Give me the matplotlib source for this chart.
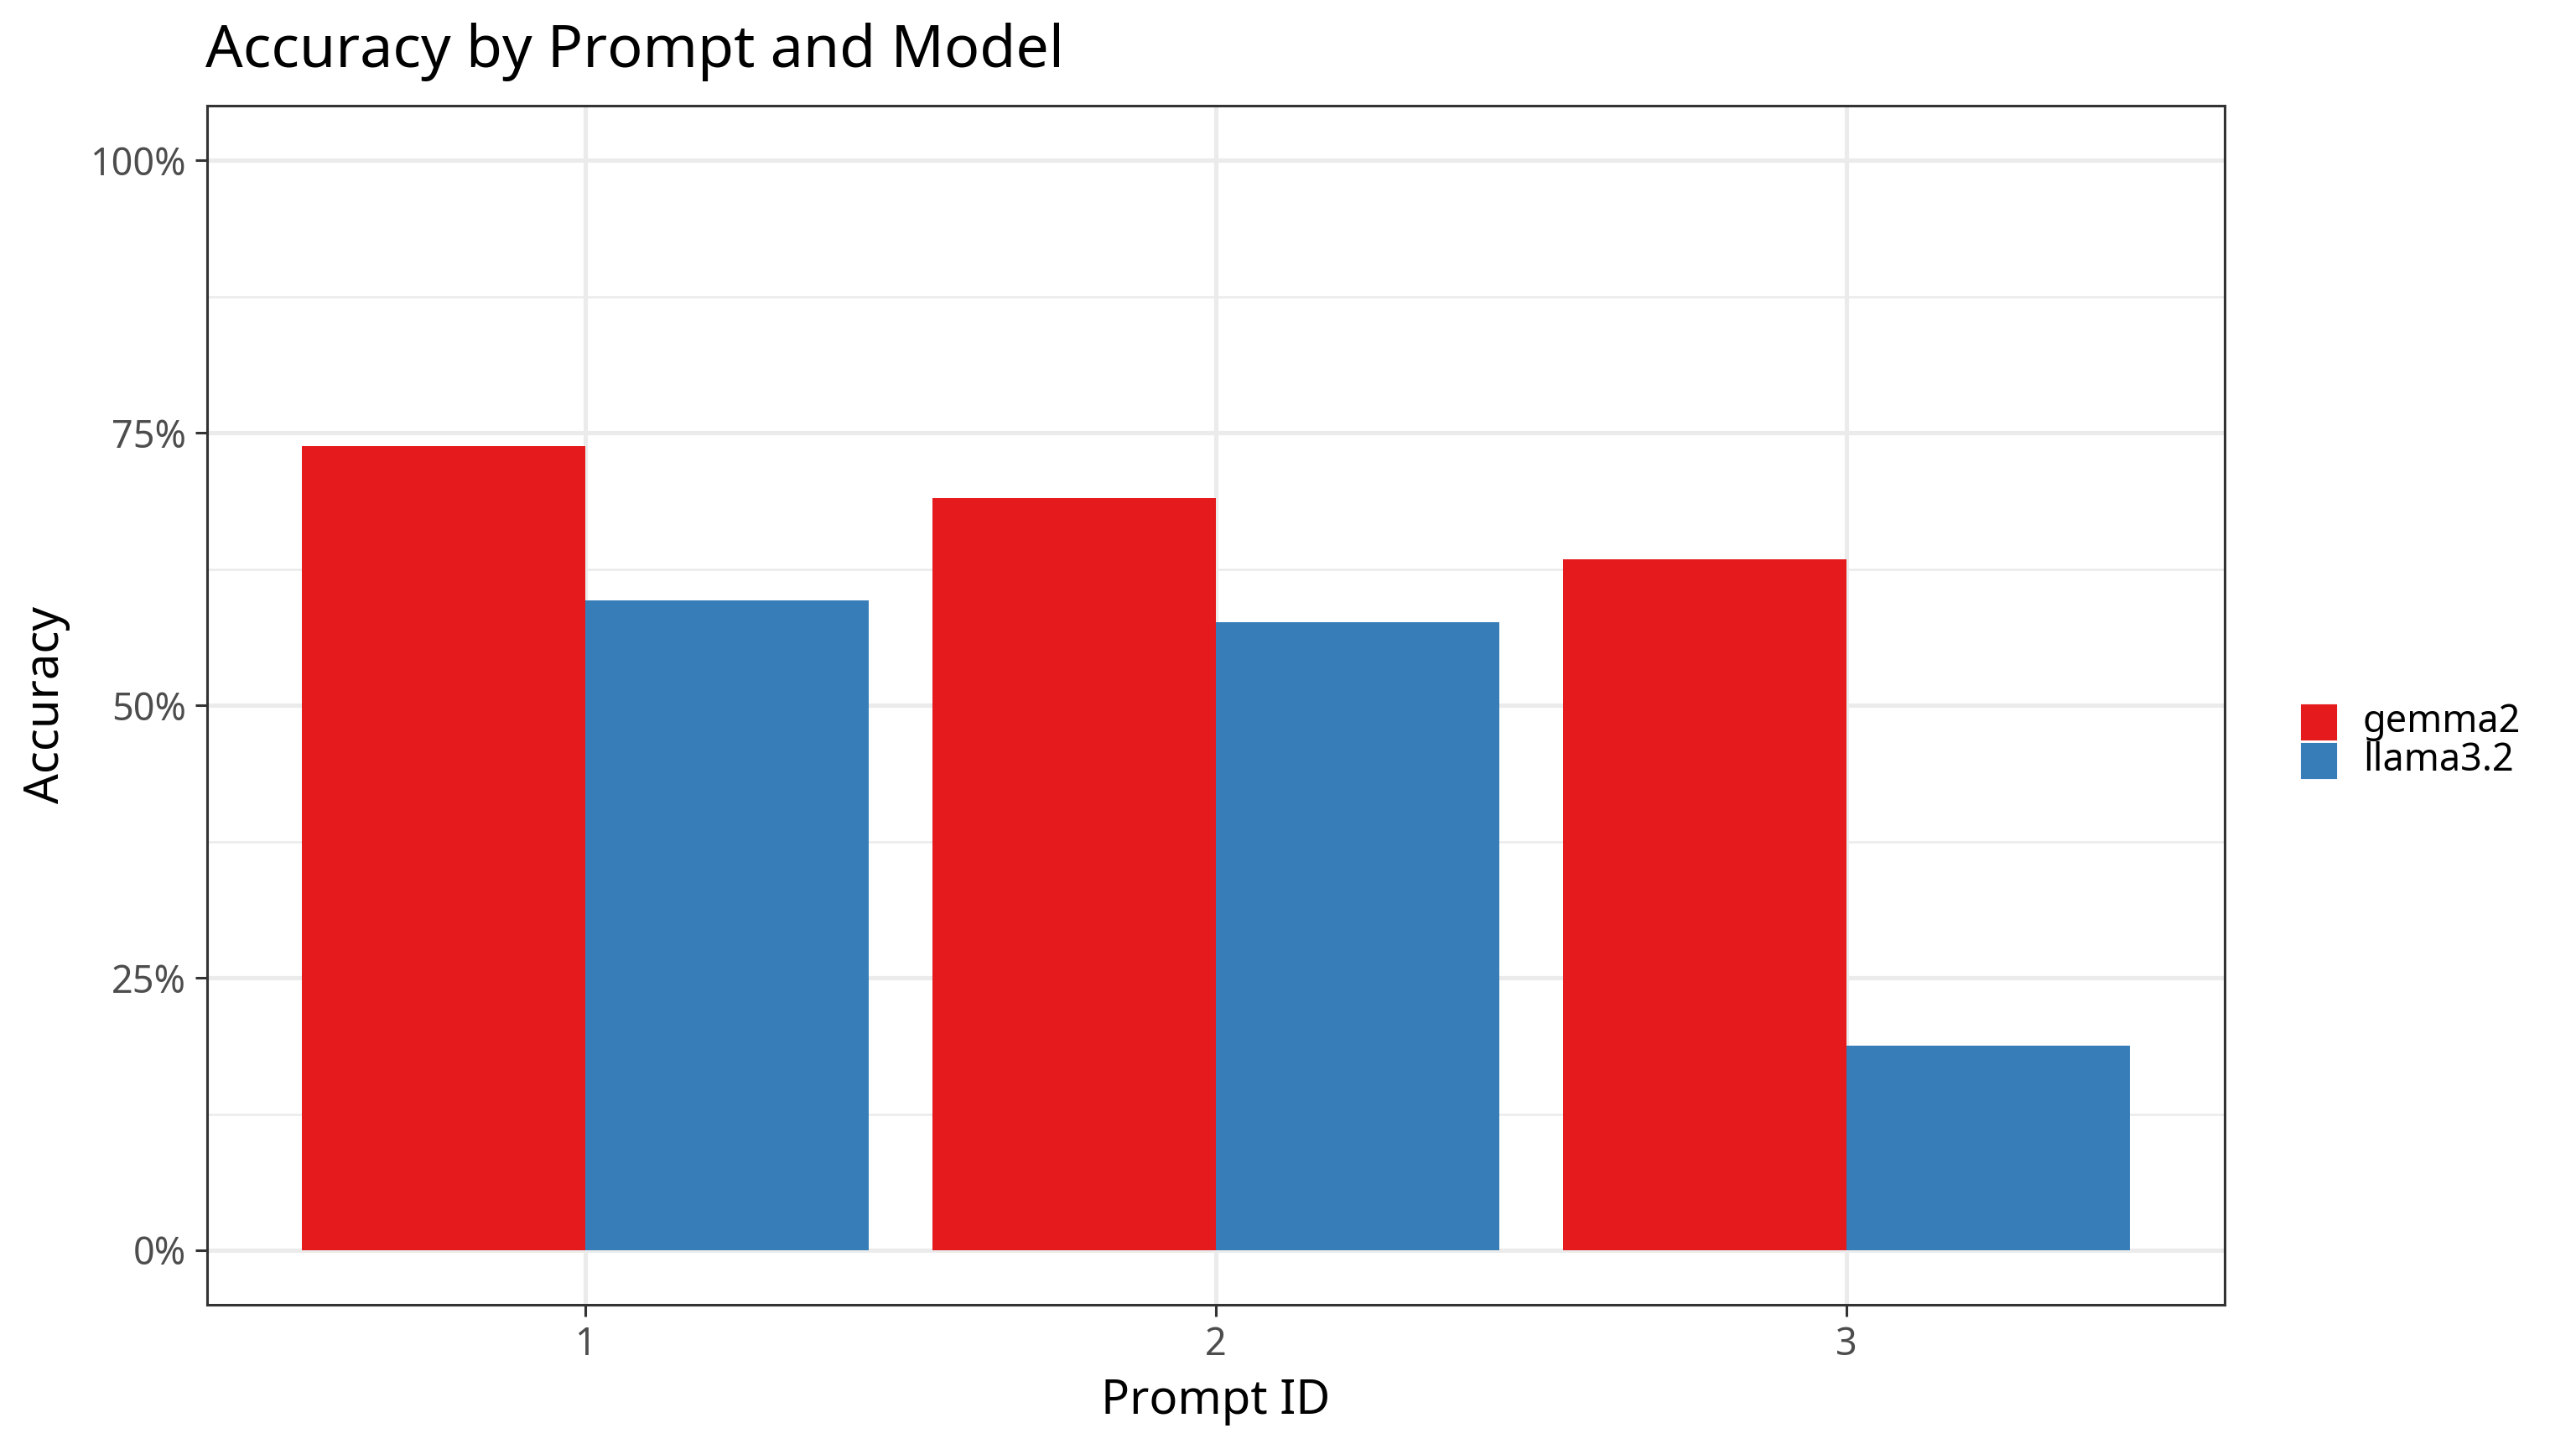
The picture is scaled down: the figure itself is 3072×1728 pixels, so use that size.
import numpy as np
import matplotlib
matplotlib.use('Agg')
import matplotlib.pyplot as plt
from matplotlib.patches import Rectangle
from matplotlib.ticker import PercentFormatter, MultipleLocator

# data
prompt_ids = ['1', '2', '3']
models = ['gemma2', 'llama3.2']
gemma2_acc = [0.738, 0.690, 0.634]
llama_acc = [0.596, 0.576, 0.188]
colors = ['#E41A1C', '#377EB8']

plt.rcParams['font.family'] = ['Noto Sans', 'DejaVu Sans']

W, H = 3072, 1728
DPI = 368
fig = plt.figure(figsize=(W / DPI, H / DPI), dpi=DPI)
ax = fig.add_axes([247 / W, 1 - 1556 / H, (2653 - 247) / W, (1556 - 126) / H])

x = np.arange(1, len(prompt_ids) + 1)
width = 0.45
ax.bar(x - width / 2, gemma2_acc, width, color=colors[0], zorder=3, label=models[0])
ax.bar(x + width / 2, llama_acc, width, color=colors[1], zorder=3, label=models[1])

ax.set_xlim(0.4, 3.6)
ax.set_ylim(-0.05, 1.05)
ax.set_xticks(x)
ax.set_xticklabels(prompt_ids)
ax.yaxis.set_major_locator(MultipleLocator(0.25))
ax.yaxis.set_minor_locator(MultipleLocator(0.125))
ax.yaxis.set_major_formatter(PercentFormatter(1.0, decimals=0))

ax.grid(which='major', color='#EBEBEB', linewidth=1.0, zorder=0)
ax.grid(which='minor', axis='y', color='#EBEBEB', linewidth=0.5, zorder=0)
ax.set_axisbelow(True)
for s in ax.spines.values():
    s.set_color('#333333')
    s.set_linewidth(0.6)
ax.tick_params(which='major', length=2.75, width=0.6, color='#333333',
               labelcolor='#4D4D4D', labelsize=8.8, pad=2.2)
ax.tick_params(which='minor', length=0)

ax.set_xlabel('Prompt ID', fontsize=11, labelpad=3)
fig.text(55 / W, 1 - 840 / H, 'Accuracy', rotation=90, fontsize=11,
         ha='center', va='center')
fig.text(245 / W, 1 - 80 / H, 'Accuracy by Prompt and Model', fontsize=13.7,
         ha='left', va='baseline')

# legend
key_x, key_w = 2746, 38
key_tops = [842, 888]
for name, col, top in zip(models, colors, key_tops):
    fig.add_artist(Rectangle((key_x / W, 1 - (top + key_w) / H), key_w / W, key_w / H,
                             transform=fig.transFigure, color=col))
    fig.text(2818 / W, 1 - (top + key_w / 2) / H, name, fontsize=8.8,
             ha='left', va='center')

fig.savefig('out.png', dpi=DPI)
